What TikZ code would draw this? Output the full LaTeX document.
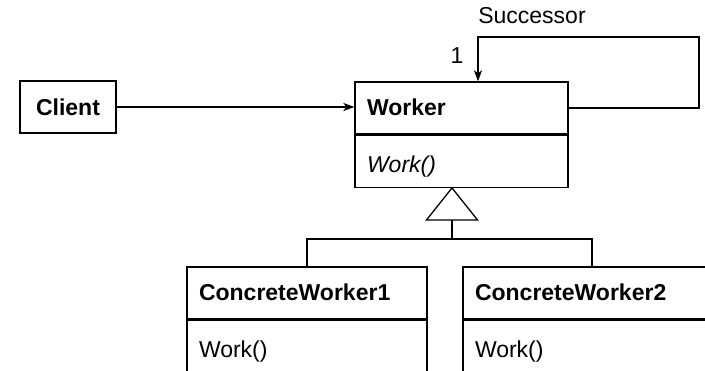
\documentclass[tikz,border=0pt]{standalone}
\usepackage{fontspec}
\setmainfont{Liberation Sans}
\usetikzlibrary{arrows.meta}
\usetikzlibrary{positioning}
\newcommand\umlsize{\fontsize{23}{27}\selectfont}
\tikzset{%
    box/.style={draw, line width=1.3pt, minimum height=52pt, inner sep=0pt},
    classname/.style={box, text width=#1, inner xsep=12pt, align=left,
        text height=19pt, text depth=4pt, font=\umlsize\bfseries},
    classops/.style={box, text width=#1, inner xsep=12pt, align=left,
        text height=24pt, text depth=2pt, font=\umlsize},
    assoc/.style={line width=1.3pt, -{Stealth[length=11pt,width=8pt,inset=3pt]}},
    tree/.style={line width=1.3pt},
    tag/.style={inner sep=0pt, font=\umlsize},
}
\begin{document}
\begin{tikzpicture}[x=1pt,y=-1pt]
\useasboundingbox (0,0) rectangle (705,371);
\clip (0,0) rectangle (705,371);
% classes
\node (client) [box, minimum width=96pt, text height=20pt, text depth=2pt,
    font=\umlsize\bfseries] at (68,107) {Client};
\node (worker) [classname=189pt] at (461.5,108) {Worker};
\node (workerops) [classops=189pt, font=\umlsize\itshape, below=0pt of worker] {Work()};
\node (cw1) [classname=216pt] at (307,293) {ConcreteWorker1};
\node (cw1ops) [classops=216pt, below=0pt of cw1] {Work()};
\node (cw2) [classname=234pt] at (592,293) {ConcreteWorker2};
\node (cw2ops) [classops=234pt, below=0pt of cw2] {Work()};
% labels
\node (succ) [tag] at (532,16) {Successor};
\node (mult) [tag] at (457,56) {1};
% associations
\coordinate (loop) at (699,37);
\draw [assoc] (client.east) -- (client.east -| worker.west);
\draw [assoc] (worker.east) -| (loop) -| ([xshift=16.5pt]worker.north);
% inheritance
\coordinate (apex) at ([xshift=-9.5pt]workerops.south);
\coordinate (base) at ([yshift=-32pt]apex);
\coordinate (split) at (452,239);
\draw [tree, line join=miter] (apex) -- ([xshift=-25.5pt]base) -- ([xshift=25.5pt]base) -- cycle;
\draw [tree] (base) -- (split);
\draw [tree] (cw1.north) |- (split) -| (cw2.north);
\end{tikzpicture}
\end{document}
